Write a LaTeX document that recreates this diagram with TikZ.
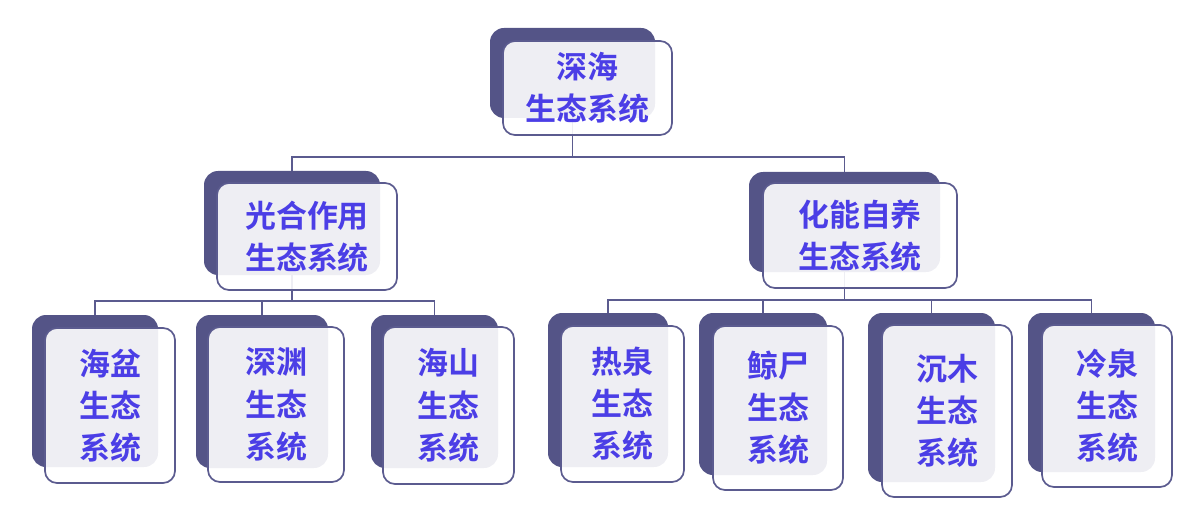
\documentclass[tikz,border=0pt]{standalone}
\usepackage{fontspec}
\newfontfamily\cjk{Noto Sans CJK SC Bold}
\usetikzlibrary{backgrounds}

\definecolor{cardshade}{HTML}{545487}
\definecolor{cardline}{HTML}{5B5B8F}
\definecolor{cardtext}{HTML}{4B3EE6}
\def\pu{0.025cm}

\begin{document}
\begin{tikzpicture}[x=0.025cm, y=-0.025cm,
    backcard/.style 2 args={rectangle, rounded corners=0.35cm, fill=cardshade,
        inner sep=0pt, outer sep=0pt, minimum width=#1*\pu, minimum height=#2*\pu},
    frontcard/.style 2 args={rectangle, rounded corners=0.3cm, draw=cardline,
        line width=1.2pt, fill=white, fill opacity=0.9, text opacity=1,
        text=cardtext, font=\cjk\fontsize{22}{30}\selectfont, align=center,
        inner sep=0pt, outer sep=0pt, minimum width=#1*\pu, minimum height=#2*\pu},
    link/.style={draw=cardline, line width=1.2pt}]
    \useasboundingbox (0,0) rectangle (1200,511);

    % Root
    \node[backcard={165}{90}] (root) at (572.5,73) {};
    \node[frontcard={169}{94}] (root-f) at (587.5,88) {深海\\生态系统};

    % Second level
    \node[backcard={176}{104}] (photo) at (292,223) {};
    \node[frontcard={180}{107}] (photo-f) at (307,236.5) {光合作用\\生态系统};
    \node[backcard={191}{100}] (chemo) at (844.5,222) {};
    \node[frontcard={194}{105}] (chemo-f) at (860,235.5) {化能自养\\生态系统};

    % Leaves under the photosynthetic branch
    \node[backcard={126}{152}] (basin) at (95,391) {};
    \node[frontcard={130}{155}] (basin-f) at (110,405.5) {海盆\\生态\\系统};
    \node[backcard={132}{153}] (abyss) at (262,391.5) {};
    \node[frontcard={136}{155}] (abyss-f) at (276,404.5) {深渊\\生态\\系统};
    \node[backcard={127}{153}] (seamount) at (434.5,391.5) {};
    \node[frontcard={131}{157}] (seamount-f) at (448.5,405.5) {海山\\生态\\系统};

    % Leaves under the chemosynthetic branch
    \node[backcard={120}{154}] (vent) at (608,390) {};
    \node[frontcard={123}{156}] (vent-f) at (622.5,404) {热泉\\生态\\系统};
    \node[backcard={128}{162}] (whale) at (763,394) {};
    \node[frontcard={130}{164}] (whale-f) at (778,408) {鲸尸\\生态\\系统};
    \node[backcard={127}{169}] (wood) at (931.5,397.5) {};
    \node[frontcard={130}{172}] (wood-f) at (947,411) {沉木\\生态\\系统};
    \node[backcard={127}{159}] (seep) at (1091.5,392.5) {};
    \node[frontcard={130}{162}] (seep-f) at (1107,406) {冷泉\\生态\\系统};

    % Bar levels
    \coordinate (bar1) at (0,157);
    \coordinate (bar2) at (0,301);
    \coordinate (bar3) at (0,300);

    % Connectors, behind the cards
    \begin{pgfonlayer}{background}
        \draw[link] (root.center) -- (root.center |- bar1);
        \draw[link] (photo.center) |- (chemo.center |- bar1) -- (chemo.center);

        \draw[link] (photo.center) -- (photo.center |- bar2);
        \draw[link] (basin.center) |- (seamount.center |- bar2) -- (seamount.center);
        \draw[link] (abyss.center) -- (abyss.center |- bar2);

        \draw[link] (chemo.center) -- (chemo.center |- bar3);
        \draw[link] (vent.center) |- (seep.center |- bar3) -- (seep.center);
        \draw[link] (whale.center) -- (whale.center |- bar3);
        \draw[link] (wood.center) -- (wood.center |- bar3);
    \end{pgfonlayer}
\end{tikzpicture}
\end{document}
